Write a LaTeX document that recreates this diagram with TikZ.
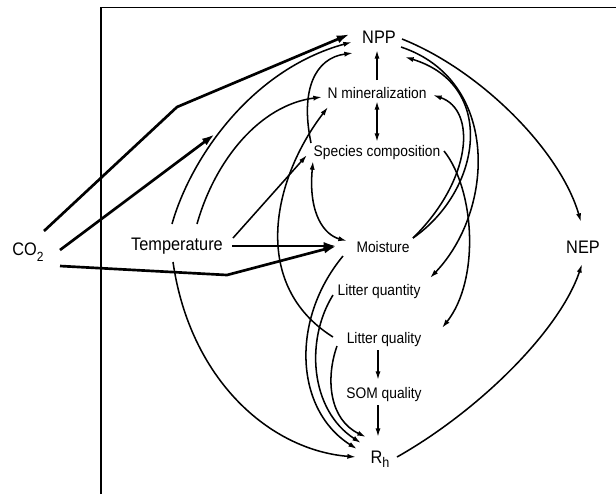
\documentclass[tikz,border=0pt]{standalone}
\usepackage{fontspec}
\usepackage{graphicx}
\setmainfont{Liberation Sans}
\usetikzlibrary{arrows.meta,calc}
\newcommand{\subtwo}[1]{\raisebox{-4.5pt}{\fontsize{10}{10}\selectfont #1}}
\newcommand{\subh}[1]{\raisebox{-3pt}{\fontsize{10.5}{10.5}\selectfont #1}}
\newcommand{\narrowtxt}[1]{\scalebox{0.9}[1]{#1}}
\tikzset{
  big/.style={font=\fontsize{13.6}{15}\selectfont, inner sep=0pt, anchor=base},
  small/.style={font=\fontsize{11.5}{13}\selectfont, inner sep=0pt, anchor=base},
  link/.style={line width=1.15pt, -{Latex[length=6.5pt,width=3.8pt]}},
  dlink/.style={line width=1.15pt, {Latex[length=6.5pt,width=3.8pt]}-{Latex[length=6.5pt,width=3.8pt]}},
  thicklink/.style={line width=2pt, -{Latex[length=10pt,width=6pt]}},
  frameline/.style={line width=0.9pt}
}
\begin{document}
\begin{tikzpicture}[x=0.75pt,y=-0.75pt]
\fill[white] (0,0) rectangle (616,494);
\useasboundingbox (0,0) rectangle (616,494);
\draw[frameline] (101,494) -- (101,7.5) -- (616,7.5);

% nodes
\node[big]   (npp)   at (379,43)  {\narrowtxt{NPP}};
\node[small] (nmin)  at (377,98)  {\narrowtxt{N mineralization}};
\node[small] (spc)   at (377,156) {\narrowtxt{Species composition}};
\node[small] (moist) at (383,252) {\narrowtxt{Moisture}};
\node[small] (lqn)   at (379,295) {\narrowtxt{Litter quantity}};
\node[small] (lql)   at (384,343) {\narrowtxt{Litter quality}};
\node[small] (som)   at (384,398) {\narrowtxt{SOM quality}};
\node[big]   (rh)    at (380,463) {\narrowtxt{R\subh{h}}};
\node[big]   (nep)   at (583,253) {\narrowtxt{NEP}};
\node[big]   (co2)   at (28,255)  {\narrowtxt{CO\subtwo{2}}};
\node[big]   (temp)  at (177,250) {\narrowtxt{Temperature}};

\coordinate (k1) at (177,107);
\coordinate (k3) at (227,275);
\coordinate (c2end) at (215,134);

% CO2 and temperature thick arrows
\draw[thicklink] ($(co2.base)+(16,-24)$) -- (k1) -- ($(npp.base)+(-29,-9)$);
\draw[thicklink] ($(co2.base)+(32,-5)$) -- (c2end);
\draw[thicklink] ($(co2.base)+(32,11)$) -- (k3) -- ($(moist.base)+(-46,-6)$);
\draw[thicklink] ($(temp.base)+(55,-4)$) -- ($(moist.base)+(-46,-6)$);

% temperature
\draw[link] ($(temp.base)+(-5,-26)$) .. controls (190,160) and (250,70) .. ($(npp.base)+(-27,-1)$);
\draw[link] ($(temp.base)+(20,-26)$) .. controls (215,160) and (260,105) .. ($(nmin.base)+(-55,-1)$);
\draw[link] ($(temp.base)+(56,-12)$) -- ($(spc.base)+(-70,-1)$);
\draw[link] ($(temp.base)+(-4,12)$) .. controls (190,380) and (270,450) .. ($(rh.base)+(-24,-6)$);

% species composition
\draw[link] ($(spc.base)+(-66,-13)$) .. controls (300,90) and (315,58) .. ($(npp.base)+(-26,10)$);
\draw[dlink] ($(spc.base)+(-64,5)$) .. controls (308,215) and (325,235) .. ($(moist.base)+(-36,-11)$);
\draw[link] ($(spc.base)+(67,-5)$) .. controls (475,190) and (480,280) .. ($(lql.base)+(58,-15)$);

% litter quality -> N mineralization
\draw[link] ($(lql.base)+(-51,-6)$) .. controls (250,285) and (272,180) .. ($(nmin.base)+(-49,9)$);

% moisture
\draw[link] ($(moist.base)+(30,-14)$) .. controls (482,190) and (497,85) .. ($(npp.base)+(26,14)$);
\draw[link] ($(moist.base)+(30,-14)$) .. controls (472,180) and (477,110) .. ($(nmin.base)+(56,-3)$);
\draw[link] ($(moist.base)+(-40,4)$) .. controls (290,320) and (295,410) .. ($(rh.base)+(-23,-14)$);

% NPP
\draw[link] ($(npp.base)+(22,4)$) .. controls (500,80) and (495,210) .. ($(lqn.base)+(51,-17)$);
\draw[link] ($(npp.base)+(23,-4)$) .. controls (480,70) and (560,150) .. ($(nep.base)+(-2,-31)$);

% vertical arrows
\draw[link] ($(nmin.base)+(0,-18)$) -- ($(npp.base)+(-2,7)$);
\draw[dlink] ($(nmin.base)+(0,3)$) -- ($(spc.base)+(0,-14)$);
\draw[link] ($(lql.base)+(-6,7)$) -- ($(som.base)+(-6,-18)$);
\draw[link] ($(som.base)+(-6,7)$) -- ($(rh.base)+(-2,-26)$);

% to Rh and NEP
\draw[link] ($(lqn.base)+(-46,0)$) .. controls (305,340) and (310,410) .. ($(rh.base)+(-19,-20)$);
\draw[link] ($(lql.base)+(-47,3)$) .. controls (325,380) and (330,420) .. ($(rh.base)+(-14,-26)$);
\draw[link] ($(rh.base)+(17,-6)$) .. controls (480,410) and (560,330) .. ($(nep.base)+(-1,11)$);
\end{tikzpicture}
\end{document}
